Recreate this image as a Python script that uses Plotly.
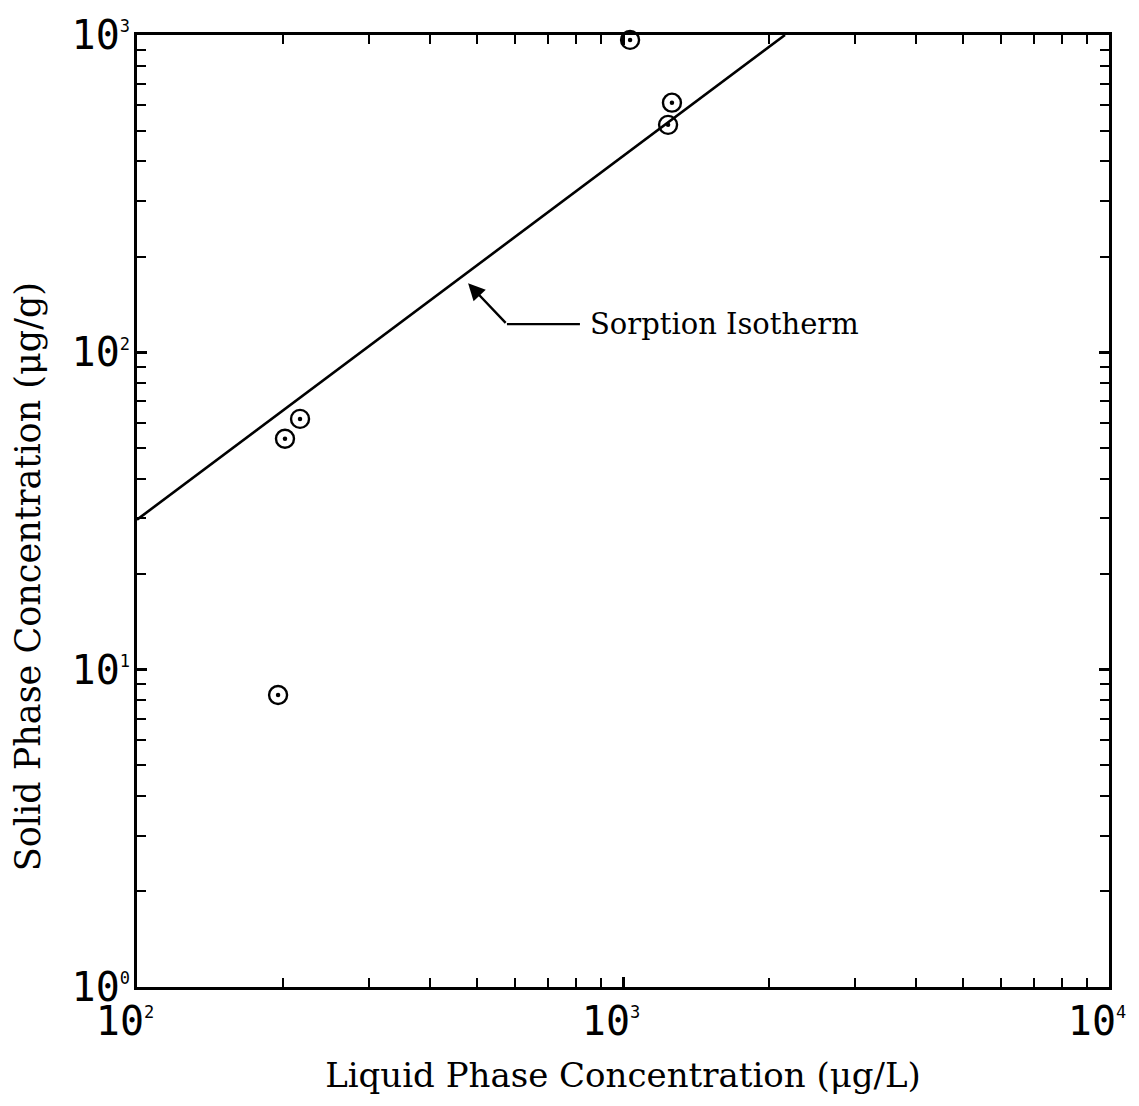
import math
import plotly.graph_objects as go

# Measured sorption data: liquid-phase vs solid-phase concentration
liquid_conc = [201.6, 216.5, 195.1, 1034, 1261, 1238]   # µg/L
solid_conc = [53.4, 61.7, 8.32, 965, 612, 521]          # µg/g

# Fitted sorption isotherm (straight line on log-log axes)
isotherm_liquid = [100, 2154]
isotherm_solid = [29.7, 1000]

# Decade tick positions and labels
def power_label(exp):
    return f"10<sup><span style='font-size:17px'>{exp}</span></sup>"

x_tickvals = [100, 1000, 10000]
x_ticktext = [power_label(e) for e in (2, 3, 4)]
y_tickvals = [1, 10, 100, 1000]
y_ticktext = [power_label(e) for e in (0, 1, 2, 3)]

# Label pointer: arrow tip near the line, and the elbow of the leader
arrow_tip = (480, 165)
arrow_elbow = (577, 122.7)

fig = go.Figure()

fig.add_trace(go.Scatter(
    x=isotherm_liquid, y=isotherm_solid, mode="lines",
    line=dict(color="black", width=2.6), showlegend=False))

# Open circles with a solid centre dot
fig.add_trace(go.Scatter(
    x=liquid_conc, y=solid_conc, mode="markers",
    marker=dict(symbol="circle-open", size=18, color="black",
                line=dict(color="black", width=2.4)),
    showlegend=False, cliponaxis=False))
fig.add_trace(go.Scatter(
    x=liquid_conc, y=solid_conc, mode="markers",
    marker=dict(symbol="circle", size=4.5, color="black"),
    showlegend=False, cliponaxis=False))

tick_font = dict(family="DejaVu Sans Mono", size=40, color="black")
title_font = dict(family="DejaVu Serif", size=34, color="black")

fig.update_xaxes(
    type="log", range=[2, 4],
    tickvals=x_tickvals, ticktext=x_ticktext, tickfont=tick_font,
    ticks="inside", ticklen=10, tickwidth=2.5, tickcolor="black",
    minor=dict(ticks="inside", ticklen=9, tickwidth=2, tickcolor="black",
               dtick="D1", showgrid=False),
    showline=True, linecolor="black", linewidth=3, mirror="allticks",
    showgrid=False, zeroline=False,
    ticklabelshift=-12, ticklabelstandoff=-3,
    title=dict(text="Liquid Phase Concentration (μg/L)", font=title_font,
               standoff=21),
)
fig.update_yaxes(
    type="log", range=[0, 3],
    tickvals=y_tickvals, ticktext=y_ticktext, tickfont=tick_font,
    ticks="inside", ticklen=10, tickwidth=2.5, tickcolor="black",
    minor=dict(ticks="inside", ticklen=9, tickwidth=2, tickcolor="black",
               dtick="D1", showgrid=False),
    showline=True, linecolor="black", linewidth=3, mirror="allticks",
    showgrid=False, zeroline=False,
    ticklabelstandoff=-4,
)

fig.add_annotation(
    x=(28 - 137) / 972, y=1 - (576 - 32) / 955, xref="paper", yref="paper",
    text="Solid Phase Concentration (μg/g)", textangle=-90, showarrow=False,
    font=dict(family="DejaVu Serif", size=35, color="black"),
    xanchor="center", yanchor="middle")

# Bent leader: arrow from the elbow up to the line, then a plain segment to the text
fig.add_annotation(
    x=math.log10(arrow_tip[0]), y=math.log10(arrow_tip[1]), xref="x", yref="y",
    text="", showarrow=True, arrowhead=2, arrowsize=1.4, arrowwidth=2.4,
    arrowcolor="black", ax=39, ay=41)
fig.add_annotation(
    x=math.log10(arrow_elbow[0]), y=math.log10(arrow_elbow[1]), xref="x", yref="y",
    text="Sorption Isotherm",
    font=dict(family="DejaVu Serif", size=29, color="black"),
    showarrow=True, arrowhead=0, arrowwidth=2.4, arrowcolor="black",
    ax=218, ay=0, standoff=0, borderpad=10)

fig.update_layout(
    width=1139, height=1106,
    margin=dict(l=137, r=30, t=32, b=119),
    plot_bgcolor="white", paper_bgcolor="white",
)

fig.write_html("out.html")
